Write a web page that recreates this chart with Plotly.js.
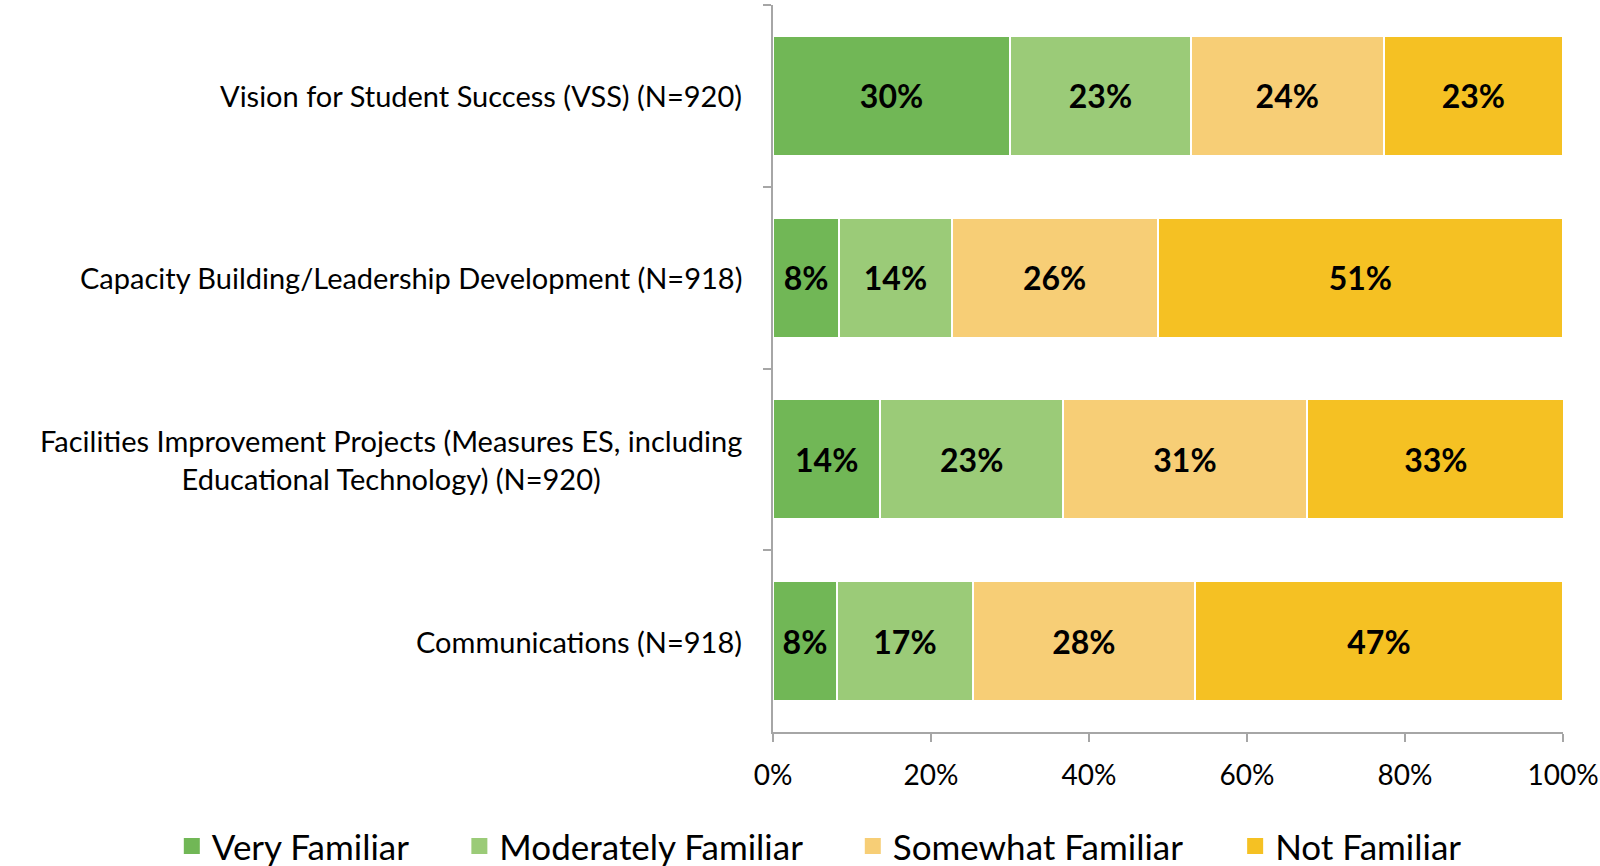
<!DOCTYPE html>
<html>
<head>
<meta charset="utf-8">
<script src="https://cdn.plot.ly/plotly-3.0.1.min.js"></script>
<style>
  html, body { margin: 0; padding: 0; background: #fff; }
  #chart { width: 1600px; height: 866px; }
</style>
</head>
<body>
<div id="chart"></div>
<script>
// Familiarity with district initiatives
const programs = [
    'Vision for Student Success (VSS) (N=920)',
    'Capacity Building/Leadership Development (N=918)',
    'Facilities Improvement Projects (Measures ES, including<br>Educational Technology) (N=920)',
    'Communications (N=918)'
];

const veryFamiliar = [30.0, 8.4, 13.6, 8.1];
const moderatelyFamiliar = [22.9, 14.2, 23.1, 17.2];
const somewhatFamiliar = [24.4, 26.1, 30.9, 28.1];
const notFamiliar = [22.7, 51.3, 32.6, 46.6];

const seriesNames = ['Very Familiar', 'Moderately Familiar', 'Somewhat Familiar', 'Not Familiar'];
const seriesColors = ['#71b756', '#9bcb78', '#f7ce76', '#f5c123'];
const xTicks = [0, 20, 40, 60, 80, 100];

const FONT = 'Lato, "Open Sans", sans-serif';
const legendIds = ['legend', 'legend2', 'legend3', 'legend4'];
const legendX = [-0.761, -0.397, 0.101, 0.585];

function makeTrace(values, i) {
    return {
        type: 'bar',
        orientation: 'h',
        name: seriesNames[i],
        y: programs,
        x: values,
        showlegend: false,
        legendgroup: seriesNames[i],
        marker: { color: seriesColors[i], line: { color: '#ffffff', width: 2 } },
        texttemplate: '%{x:.0f}%',
        textposition: 'inside',
        insidetextanchor: 'middle',
        textfont: { family: FONT, size: 32, color: '#000000', weight: 'bold' },
        hoverinfo: 'name+x'
    };
}

// legend-only entries (one legend each) so swatch size and spacing can follow the original
function makeLegendEntry(name, i) {
    return {
        type: 'scatter',
        mode: 'markers',
        name: name,
        legendgroup: name,
        legend: legendIds[i],
        x: [null],
        y: [null],
        marker: { symbol: 'square', size: 16, color: seriesColors[i] },
        hoverinfo: 'skip'
    };
}

const data = [veryFamiliar, moderatelyFamiliar, somewhatFamiliar, notFamiliar].map(makeTrace)
    .concat(seriesNames.map(makeLegendEntry));

// category labels as centred annotations so the wrapped one is centred like the original
const labelNotes = programs.map(p => ({
    xref: 'paper',
    yref: 'y',
    x: 0,
    y: p,
    xanchor: 'right',
    yanchor: 'middle',
    xshift: -29,
    align: 'center',
    showarrow: false,
    text: p,
    font: { family: FONT, size: 29, color: '#000000' }
}));

const layout = {
    barmode: 'stack',
    bargap: 0.34,
    width: 1600,
    height: 866,
    margin: { l: 773, r: 37, t: 5, b: 134, autoexpand: false },
    paper_bgcolor: '#ffffff',
    plot_bgcolor: '#ffffff',
    font: { family: FONT, color: '#000000' },
    showlegend: true,
    annotations: labelNotes,
    xaxis: {
        range: [0, 100],
        tickvals: xTicks,
        ticktext: xTicks.map(v => v + '%'),
        showgrid: false,
        zeroline: false,
        showline: true,
        linecolor: '#a6a6a6',
        linewidth: 2,
        ticks: 'outside',
        ticklen: 8,
        tickcolor: '#a6a6a6',
        tickwidth: 2,
        tickfont: { family: FONT, size: 28 },
        ticklabelstandoff: 9
    },
    yaxis: {
        autorange: 'reversed',
        showgrid: false,
        showline: true,
        linecolor: '#a6a6a6',
        linewidth: 2,
        ticks: 'outside',
        tickson: 'boundaries',
        ticklen: 8,
        tickcolor: '#a6a6a6',
        tickwidth: 2,
        showticklabels: false
    }
};

legendIds.forEach((id, i) => {
    layout[id] = {
        orientation: 'h',
        x: legendX[i],
        xanchor: 'left',
        y: -0.157,
        yanchor: 'middle',
        font: { family: FONT, size: 35 },
        itemwidth: 30
    };
});

Plotly.newPlot('chart', data, layout, { displayModeBar: false, staticPlot: true });
</script>
</body>
</html>
